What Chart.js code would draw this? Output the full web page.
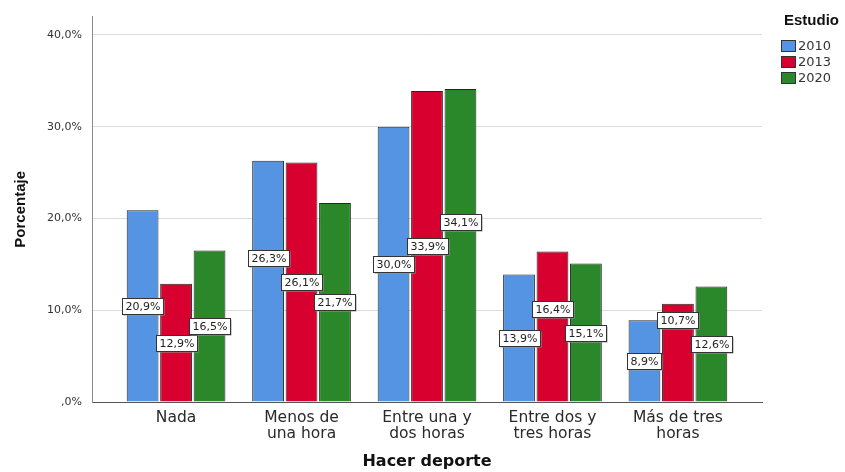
<!DOCTYPE html>
<html>
<head>
<meta charset="utf-8">
<script src="https://cdn.jsdelivr.net/npm/chart.js@4.4.0/dist/chart.umd.min.js"></script>
<style>
  html, body { margin: 0; padding: 0; background: #fff; }
  #wrap { width: 845px; height: 472px; }
</style>
</head>
<body>
<div id="wrap"><canvas id="chart" width="845" height="472"></canvas></div>
<script>
// categories (split in lines like the original x labels)
const categories = [['Nada'], ['Menos de', 'una hora'], ['Entre una y', 'dos horas'], ['Entre dos y', 'tres horas'], ['Más de tres', 'horas']];
const studies = ['2010', '2013', '2020'];
const values2010 = [20.9, 26.3, 30.0, 13.9, 8.9];
const values2013 = [12.9, 26.1, 33.9, 16.4, 10.7];
const values2020 = [16.5, 21.7, 34.1, 15.1, 12.6];
const yTicks = [0, 10, 20, 30, 40];
const colors = ['#5494e2', '#d7002e', '#2a882a'];

const fmt = v => (v === 0 ? ',0' : v.toFixed(1).replace('.', ',')) + '%';
const FONT = '"DejaVu Sans", Verdana, sans-serif';
const FONT_NARROW = '"Liberation Sans", Arial, sans-serif';
Chart.defaults.font.family = FONT;

// value labels in white boxes, nudged up when they overlap
const barLabels = {
    id: 'barLabels',
    afterDatasetsDraw(chart) {
        const ctx = chart.ctx;
        const yScale = chart.scales.y;
        ctx.save();
        ctx.font = '11px ' + FONT;
        ctx.textAlign = 'center';
        ctx.textBaseline = 'middle';
        categories.forEach((c, i) => {
            const items = chart.data.datasets.map((ds, d) => {
                const bar = chart.getDatasetMeta(d).data[i];
                const v = ds.data[i].y;
                const text = fmt(v);
                return { v, text, x: bar.x, y: yScale.getPixelForValue(v / 2), w: Math.round(ctx.measureText(text).width) + 6 };
            });
            for (let n = 0; n < 10; n++) {
                const hits = items.map(a => items.filter(b => b !== a &&
                    Math.abs(a.x - b.x) < (a.w + b.w) / 2 && Math.abs(a.y - b.y) < 16.5));
                let pick = -1;
                hits.forEach((h, k) => {
                    if (!h.length) return;
                    if (pick < 0 || h.length > hits[pick].length ||
                        (h.length === hits[pick].length && items[k].v > items[pick].v)) pick = k;
                });
                if (pick < 0) break;
                items[pick].y = Math.min(...hits[pick].map(b => b.y)) - 24;
            }
            items.forEach(it => {
                const x0 = Math.round(it.x - it.w / 2) + 0.5;
                const y0 = Math.round(it.y - 8) + 0.5;
                ctx.fillStyle = '#9a9a9a';
                ctx.fillRect(x0 + 1, y0 + 1, it.w, 16);
                ctx.fillStyle = '#fff';
                ctx.fillRect(x0, y0, it.w, 16);
                ctx.strokeStyle = '#333';
                ctx.lineWidth = 1;
                ctx.strokeRect(x0, y0, it.w, 16);
                ctx.fillStyle = '#222';
                ctx.fillText(it.text, x0 + it.w / 2, y0 + 8.5);
            });
        });
        ctx.restore();
    }
};

// legend block on the right
const sideLegend = {
    id: 'sideLegend',
    afterDraw(chart) {
        const ctx = chart.ctx;
        ctx.save();
        ctx.textBaseline = 'middle';
        ctx.textAlign = 'left';
        ctx.fillStyle = '#111';
        ctx.font = 'bold 15px ' + FONT_NARROW;
        ctx.fillText('Estudio', 784, 21);
        chart.data.datasets.forEach((ds, d) => {
            const y = 40 + d * 16;
            ctx.fillStyle = ds.backgroundColor;
            ctx.fillRect(781.5, y + 0.5, 14, 11);
            ctx.strokeStyle = '#333';
            ctx.lineWidth = 1;
            ctx.strokeRect(781.5, y + 0.5, 14, 11);
            ctx.fillStyle = '#333';
            ctx.font = '13px ' + FONT;
            ctx.fillText(ds.label, 798, y + 6.5);
        });
        ctx.restore();
    }
};

const series = [values2010, values2013, values2020];

new Chart(document.getElementById('chart'), {
    type: 'bar',
    data: {
        datasets: series.map((vals, d) => ({
            label: studies[d],
            data: vals.map((v, i) => ({ x: i, y: v })),
            backgroundColor: colors[d],
            borderColor: '#262626',
            borderWidth: 1,
            categoryPercentage: 0.8,
            barPercentage: 0.95
        }))
    },
    options: {
        responsive: false,
        devicePixelRatio: 1,
        animation: false,
        layout: { padding: { top: 10, right: 83, left: 0, bottom: 0 } },
        plugins: {
            legend: { display: false },
            tooltip: { enabled: false }
        },
        scales: {
            x: {
                type: 'linear',
                offset: false,
                min: -0.67,
                max: 4.67,
                grid: { display: false, drawTicks: false, offset: false },
                border: { color: '#555', width: 1 },
                afterBuildTicks: s => { s.ticks = categories.map((c, i) => ({ value: i })); },
                afterFit: s => { s.height = 70; },
                ticks: {
                    autoSkip: false,
                    maxRotation: 0,
                    padding: 8,
                    color: '#2a2a2a',
                    font: { size: 15.5, lineHeight: 1.03 },
                    callback: v => categories[v]
                },
                title: {
                    display: true,
                    text: 'Hacer deporte',
                    color: '#111',
                    font: { size: 16, weight: 'bold' },
                    padding: { top: 0, bottom: 1 }
                }
            },
            y: {
                min: 0,
                max: 42,
                grid: { color: '#dcdcdc', drawTicks: false },
                border: { color: '#8a8a8a' },
                afterBuildTicks: s => { s.ticks = yTicks.map(v => ({ value: v })); },
                afterFit: s => { s.width = 92; },
                ticks: {
                    padding: 10,
                    color: '#333',
                    font: { size: 11 },
                    callback: v => fmt(v)
                },
                title: {
                    display: true,
                    text: 'Porcentaje',
                    color: '#111',
                    font: { family: FONT_NARROW, size: 15, weight: 'bold' },
                    padding: { top: 12, bottom: 0 }
                }
            }
        }
    },
    plugins: [barLabels, sideLegend]
});
</script>
</body>
</html>
